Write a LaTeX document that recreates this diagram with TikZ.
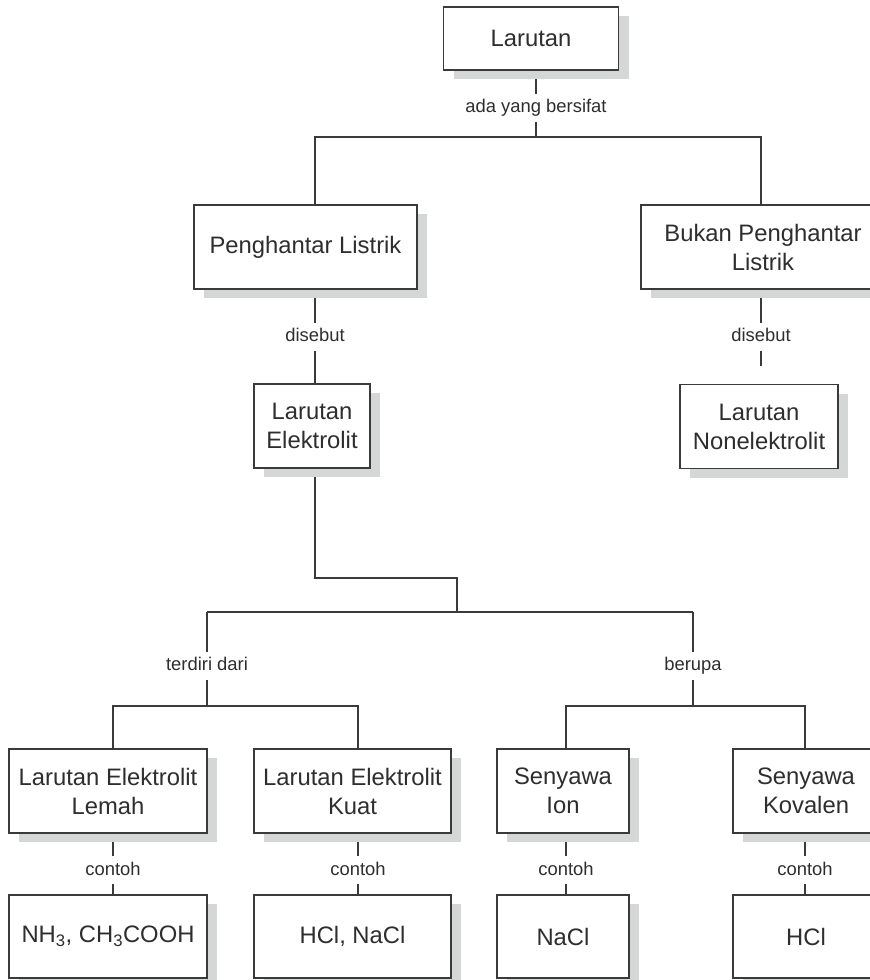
\documentclass[tikz,border=0pt]{standalone}
\usepackage{fontspec}
\setmainfont{Liberation Sans}
\usetikzlibrary{shadows,backgrounds}
\definecolor{garisabu}{HTML}{3A3A3A}
\definecolor{teksabu}{HTML}{2E2E2E}
\definecolor{bayang}{HTML}{D5D7D7}

\begin{document}
\begin{tikzpicture}[x=1pt,y=-1pt,
  kotak/.style={draw=garisabu,line width=1.3pt,fill=white,text=teksabu,align=center,
    font=\fontsize{23.8}{29}\selectfont,inner sep=0pt,minimum height=84pt,
    drop shadow={shadow xshift=10pt,shadow yshift=-9pt,fill=bayang,opacity=1}},
  garis/.style={draw=garisabu,line width=1.3pt},
  ket/.style={fill=white,text=teksabu,font=\fontsize{18.4}{22}\selectfont,
    inner xsep=2pt,inner ysep=5pt,text height=14pt,text depth=4pt}]
\useasboundingbox (0,0) rectangle (870,980);

\node[kotak,minimum width=175pt,minimum height=63pt] (larutan) at (531,38.5) {Larutan};
\node[kotak,minimum width=223pt] (penghantar) at (305.5,247) {Penghantar Listrik};
\node[kotak,minimum width=244pt] (bukan) at (763,247) {Bukan Penghantar\\Listrik};
\node[kotak,minimum width=116pt] (elektrolit) at (312,426) {Larutan\\Elektrolit};
\node[kotak,minimum width=158pt] (nonel) at (759,426.5) {Larutan\\Nonelektrolit};
\node[kotak,minimum width=198pt] (lemah) at (108,791) {Larutan Elektrolit\\Lemah};
\node[kotak,minimum width=197pt] (kuat) at (352.5,791) {Larutan Elektrolit\\Kuat};
\node[kotak,minimum width=132pt] (ion) at (563,791) {Senyawa\\Ion};
\node[kotak,minimum width=146pt] (kovalen) at (806,791) {Senyawa\\Kovalen};
\node[kotak,minimum width=198pt,minimum height=83pt] (nh) at (108,936.5) {NH\textsubscript{3}, CH\textsubscript{3}COOH};
\node[kotak,minimum width=197pt,minimum height=83pt] (hclnacl) at (352.5,936.5) {HCl, NaCl};
\node[kotak,minimum width=132pt,minimum height=83pt] (nacl) at (563,936.5) {NaCl};
\node[kotak,minimum width=146pt,minimum height=83pt] (hcl) at (806,936.5) {HCl};

\coordinate (a1) at (536,137);
\coordinate (a1l) at (315,137);
\coordinate (a1r) at (761,137);
\coordinate (e1) at (315,578);
\coordinate (e2) at (457,578);
\coordinate (e3) at (457,612);
\coordinate (c1) at (207,612);
\coordinate (c2) at (693,612);
\coordinate (d1) at (207,706);
\coordinate (d2) at (693,706);
\coordinate (l1) at (113,706);
\coordinate (l2) at (358,706);
\coordinate (r1) at (566,706);
\coordinate (r2) at (805,706);

\begin{scope}[on background layer]
\fill[white] (0,0) rectangle (870,980);
\draw[garis] (a1 |- larutan.south) -- node[ket,pos=.56] {ada yang bersifat} (a1);
\draw[garis] (a1l |- penghantar.north) -- (a1l) -- (a1r) -- (a1r |- bukan.north);
\draw[garis] (a1l |- penghantar.south) -- node[ket] {disebut} (a1l |- elektrolit.north);
\draw[garis,shorten >=18pt] (a1r |- bukan.south) -- node[ket] {disebut} (a1r |- nonel.north);
\draw[garis] (e1 |- elektrolit.south) -- (e1) -- (e2) -- (e3);
\draw[garis] (c1) -- (c2);
\draw[garis] (c1) -- node[ket,pos=.57] {terdiri dari} (d1);
\draw[garis] (c2) -- node[ket,pos=.57] {berupa} (d2);
\draw[garis] (l1 |- lemah.north) -- (l1) -- (l2) -- (l2 |- kuat.north);
\draw[garis] (r1 |- ion.north) -- (r1) -- (r2) -- (r2 |- kovalen.north);
\foreach \atas/\bawah/\titik in {lemah/nh/l1,kuat/hclnacl/l2,ion/nacl/r1,kovalen/hcl/r2}
  \draw[garis] (\titik |- \atas.south) -- node[ket,pos=.6] {contoh} (\titik |- \bawah.north);
\end{scope}
\end{tikzpicture}
\end{document}
